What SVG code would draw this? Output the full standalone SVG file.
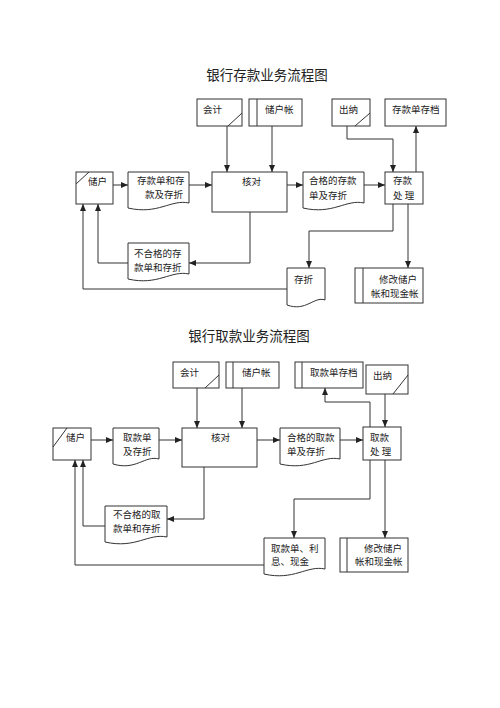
<svg xmlns="http://www.w3.org/2000/svg" width="500" height="708" viewBox="0 0 500 708">
<style>
.b{fill:#fff;stroke:#333;stroke-width:1}
.l{fill:none;stroke:#333;stroke-width:1}
.c{fill:none;stroke:#333;stroke-width:1;marker-end:url(#ah)}
text{font-family:"Noto Sans CJK SC","Noto Sans",sans-serif;fill:#222}
.t{font-size:9.5px}
.h{font-size:13.5px;text-anchor:middle}
</style>
<defs>
<marker id="ah" markerUnits="userSpaceOnUse" markerWidth="7" markerHeight="6" refX="7" refY="3" orient="auto">
<path d="M0,0 L7,3 L0,6 Z" fill="#222"/>
</marker>
</defs>
<rect width="500" height="708" fill="#fff"/>

<text class="h" x="267" y="80">银行存款业务流程图</text>
<text class="h" x="249" y="341">银行取款业务流程图</text>

<g id="connectors">
<path class="c" d="M113,185 H128"/>
<path class="c" d="M189,185 H212"/>
<path class="c" d="M227,126 V172"/>
<path class="c" d="M272,126 V172"/>
<path class="c" d="M287,185 H303"/>
<path class="c" d="M364,185 H385"/>
<path class="c" d="M347,126 V139 H393 V172"/>
<path class="c" d="M416,172 V126"/>
<path class="c" d="M393,204 V231 H309 V268"/>
<path class="c" d="M408,204 V268"/>
<path class="c" d="M287,289 H83 V204"/>
<path class="c" d="M250,212 V263 H189"/>
<path class="c" d="M128,263 H98 V204"/>

<path class="c" d="M91,440 H113"/>
<path class="c" d="M159,440 H182"/>
<path class="c" d="M197,388 V428"/>
<path class="c" d="M242,388 V428"/>
<path class="c" d="M257,440 H280"/>
<path class="c" d="M340,440 H363"/>
<path class="c" d="M385,394 V427"/>
<path class="c" d="M370,427 V402 H325 V388"/>
<path class="c" d="M370,460 V499 H294 V538"/>
<path class="c" d="M385,460 V538"/>
<path class="c" d="M264,565 H75 V460"/>
<path class="c" d="M204,467 V519 H167"/>
<path class="c" d="M105,526 H83 V460"/>
</g>

<!-- top diagram -->
<g id="kuaiji1"><rect class="b" x="197" y="99" width="45" height="27"/><path class="l" d="M242,113 L228,126"/><text class="t" x="203" y="113">会计</text></g>
<g id="zhanghu1"><rect class="b" x="249" y="99" width="53" height="27"/><path class="l" d="M257,99 V126"/><text class="t" x="265" y="113">储户帐</text></g>
<g id="chuna1"><rect class="b" x="332" y="99" width="38" height="27"/><path class="l" d="M370,113 L355,126"/><text class="t" x="339" y="113">出纳</text></g>
<g id="cundang1"><rect class="b" x="385" y="99" width="61" height="27"/><text class="t" x="392" y="113">存款单存档</text></g>
<g id="chuhu1"><rect class="b" x="76" y="172" width="37" height="32"/><path class="l" d="M76,184 L89,172"/><text class="t" x="88" y="185">储户</text></g>
<g id="doc1"><path class="b" d="M128,172 H189 V203 C171,199 158,215 128,208 Z"/><text class="t" x="137" y="184">存款单和存</text><text class="t" x="145" y="198">款及存折</text></g>
<g id="hedui1"><rect class="b" x="212" y="172" width="75" height="40"/><text class="t" x="242" y="185">核对</text></g>
<g id="hege1"><path class="b" d="M303,172 H364 V203 C346,199 333,215 303,208 Z"/><text class="t" x="309" y="184">合格的存款</text><text class="t" x="309" y="199">单及存折</text></g>
<g id="chuli1"><rect class="b" x="385" y="172" width="38" height="32"/><text class="t" x="393" y="184">存款</text><text class="t" x="393" y="199">处 理</text></g>
<g id="buhege1"><path class="b" d="M128,243 H189 V274 C171,270 158,286 128,279 Z"/><text class="t" x="134" y="257">不合格的存</text><text class="t" x="134" y="271">款单和存折</text></g>
<g id="cunzhe1"><path class="b" d="M287,268 H325 V300 C314,296 306,312 287,305 Z"/><text class="t" x="294" y="283">存折</text></g>
<g id="xiugai1"><rect class="b" x="355" y="268" width="68" height="35"/><path class="l" d="M363,268 V303"/><text class="t" x="379" y="283">修改储户</text><text class="t" x="371" y="297">帐和现金帐</text></g>

<!-- bottom diagram -->
<g id="kuaiji2"><rect class="b" x="173" y="362" width="46" height="26"/><path class="l" d="M219,375 L205,388"/><text class="t" x="180" y="376">会计</text></g>
<g id="zhanghu2"><rect class="b" x="226" y="362" width="53" height="26"/><path class="l" d="M233,362 V388"/><text class="t" x="242" y="376">储户帐</text></g>
<g id="cundang2"><rect class="b" x="295" y="362" width="68" height="26"/><path class="l" d="M302,362 V388"/><text class="t" x="310" y="376">取款单存档</text></g>
<g id="chuna2"><rect class="b" x="366" y="365" width="42" height="29"/><path class="l" d="M408,375 L393,394"/><text class="t" x="373" y="379">出纳</text></g>
<g id="chuhu2"><rect class="b" x="53" y="428" width="38" height="32"/><path class="l" d="M53,447 L67,428"/><text class="t" x="66" y="441">储户</text></g>
<g id="doc2"><path class="b" d="M113,428 H159 V459 C145,455 136,471 113,464 Z"/><text class="t" x="123" y="441">取款单</text><text class="t" x="123" y="455">及存折</text></g>
<g id="hedui2"><rect class="b" x="182" y="428" width="75" height="39"/><text class="t" x="211" y="441">核对</text></g>
<g id="hege2"><path class="b" d="M280,428 H340 V459 C322,455 310,471 280,464 Z"/><text class="t" x="287" y="441">合格的取款</text><text class="t" x="287" y="455">单及存折</text></g>
<g id="chuli2"><rect class="b" x="363" y="427" width="38" height="33"/><text class="t" x="370" y="441">取款</text><text class="t" x="370" y="455">处 理</text></g>
<g id="buhege2"><path class="b" d="M105,506 H167 V537 C148,533 136,549 105,542 Z"/><text class="t" x="113" y="518">不合格的取</text><text class="t" x="113" y="532">款单和存折</text></g>
<g id="qukuan2"><path class="b" d="M264,538 H325 V569 C307,565 294,581 264,574 Z"/><text class="t" x="271" y="552">取款单、利</text><text class="t" x="271" y="565">息、现金</text></g>
<g id="xiugai2"><rect class="b" x="340" y="538" width="68" height="34"/><path class="l" d="M347,538 V572"/><text class="t" x="364" y="552">修改储户</text><text class="t" x="355" y="565">帐和现金帐</text></g>
</svg>
